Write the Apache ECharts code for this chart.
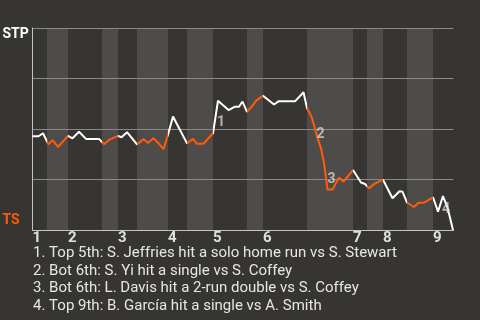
<!DOCTYPE html>
<html><head><meta charset="utf-8">
<script src="https://cdn.jsdelivr.net/npm/echarts@6/dist/echarts.min.js"></script>
<style>html,body{margin:0;padding:0;background:#373531;}#c{width:480px;height:320px;}</style>
</head><body><div id="c"></div>
<script>
// play sequence (x) and STP win probability (%)
const playX = [0, 1.2, 2.1, 3.2, 4.0, 5.1, 7.1, 8.0, 9.3, 10.7, 13.3, 14.3, 15.5, 17.1, 17.8, 18.9, 20.9, 22.2, 23.1, 24.2,
  25.3, 26.2, 27.1, 28.1, 30.9, 32.1, 32.9, 34.2, 36.1, 37.1, 39.2, 40.4, 41.3, 42.0, 42.9, 43.8, 44.7, 46.1, 48.3, 49.2,
  52.5, 54.2, 54.9, 55.8, 56.5, 57.0, 57.7, 58.3, 58.8, 59.0, 60.0, 61.3, 62.2, 64.1, 65.7, 66.5, 67.3, 68.4, 70.1, 72.0,
  73.4, 74.0, 74.9, 76.3, 77.2, 78.3, 80.1, 81.1, 82.1, 83.0, 84.1];
const winProb = [46.4, 46.4, 47.9, 42.4, 44.5, 41.1, 46.6, 45.4, 48.6, 45.1, 45.1, 42.5, 44.9, 46.6, 45.9, 48.4, 42.4, 45.0, 43.1, 45.4,
  42.7, 40.0, 47.3, 56.2, 42.9, 45.1, 42.7, 42.7, 47.9, 64.0, 59.4, 61.0, 61.0, 63.6, 58.5, 61.0, 63.9, 66.5, 62.1, 63.7,
  63.7, 68.2, 60.4, 56.1, 50.3, 45.7, 40.4, 33.2, 23.8, 20.0, 20.0, 26.0, 23.9, 29.7, 23.5, 22.8, 20.6, 22.9, 24.9, 15.7,
  19.2, 19.0, 13.6, 11.4, 13.5, 13.5, 16.2, 9.1, 16.8, 11.1, 0];
const inningStarts = [0, 7.1, 17.1, 27.1, 36.1, 46.1, 64.1, 70.1, 80.1];
const inningLabels = ['1', '2', '3', '4', '5', '6', '7', '8', '9'];
const bottomHalfStarts = [2.9, 13.9, 20.9, 30.9, 42.9, 54.9, 66.9, 74.9];
const bottomHalfEnds = [7.1, 17.1, 27.1, 36.1, 46.1, 64.1, 70.1, 80.1];
const gameEnd = 84.2;
const teamTop = 'STP';
const teamBottom = 'TS';
const eventIdx = [29, 45, 49, 68];
const eventLabels = ['1', '2', '3', '4'];
const eventTexts = [
  '1. Top 5th: S. Jeffries hit a solo home run vs S. Stewart',
  '2. Bot 6th: S. Yi hit a single vs S. Coffey',
  '3. Bot 6th: L. Davis hit a 2-run double vs S. Coffey',
  '4. Top 9th: B. García hit a single vs A. Smith'
];

const ORANGE = '#ff5b0a';
const WHITE = '#ffffff';
const FONT = 'Roboto';
const eventOffsets = [[3, 22], [3, -3], [4, -10], [3, 13]];

const chart = echarts.init(document.getElementById('c'));

// pieces for colouring line by half-inning
const bounds = inningStarts.concat(bottomHalfStarts).sort((a, b) => a - b);
const pieces = bounds.map((b, i) => ({
  gte: b,
  lt: i + 1 < bounds.length ? bounds[i + 1] : gameEnd + 1,
  color: bottomHalfStarts.indexOf(b) >= 0 ? ORANGE : WHITE
}));

const lineData = playX.map((x, i) => [x, winProb[i]]);

const graphics = [
  { type: 'text', x: 2.5, y: 34, style: { text: teamTop, fill: WHITE, font: 'bold 14px ' + FONT, verticalAlign: 'middle' } },
  { type: 'text', x: 2.5, y: 220, style: { text: teamBottom, fill: ORANGE, font: 'bold 14px ' + FONT, verticalAlign: 'middle' } }
];
eventTexts.forEach((t, i) => {
  graphics.push({ type: 'text', x: 33, y: 253 + i * 17.8, style: { text: t, fill: '#e6e6e6', font: '15px ' + FONT, verticalAlign: 'middle' } });
});

chart.setOption({
  backgroundColor: '#373531',
  animation: false,
  grid: { left: 32.5, right: 26.5, top: 28, bottom: 90 },
  xAxis: {
    type: 'value', min: 0, max: gameEnd, z: 2,
    axisLine: { show: true, lineStyle: { color: '#c4c4c2', width: 1 } },
    axisTick: { show: false },
    splitLine: { show: false },
    axisLabel: {
      customValues: inningStarts,
      formatter: (v) => inningLabels[inningStarts.indexOf(v)],
      align: 'left', margin: 1,
      color: '#e0e0e0', fontSize: 15, fontWeight: 'bold', fontFamily: FONT
    }
  },
  yAxis: {
    type: 'value', min: 0, max: 100, interval: 25, z: 2,
    axisLine: { show: true, lineStyle: { color: '#c4c4c2', width: 1 } },
    axisTick: { show: false },
    axisLabel: { show: false },
    splitLine: { show: true, lineStyle: { color: '#8a8a88', width: 1 } }
  },
  visualMap: { show: false, type: 'piecewise', dimension: 0, seriesIndex: 1, pieces: pieces },
  graphic: graphics,
  series: [
    {
      type: 'line', data: [], z: 1, silent: true,
      markArea: {
        silent: true,
        itemStyle: { color: '#4d4c4a' },
        data: bottomHalfStarts.map((s, i) => [{ xAxis: s }, { xAxis: bottomHalfEnds[i] }])
      }
    },
    {
      type: 'line', data: lineData, z: 3, symbol: 'none',
      lineStyle: { width: 2 }
    },
    {
      type: 'scatter', z: 4, symbolSize: 1, itemStyle: { color: 'rgba(0,0,0,0)' },
      data: eventIdx.map((k, i) => ({
        value: lineData[k],
        label: { offset: eventOffsets[i] }
      })),
      label: {
        show: true, position: 'inside',
        formatter: (p) => eventLabels[p.dataIndex],
        color: 'rgba(225,225,225,0.9)', fontSize: 14, fontWeight: 'bold', fontFamily: FONT
      }
    }
  ]
});
</script></body></html>
